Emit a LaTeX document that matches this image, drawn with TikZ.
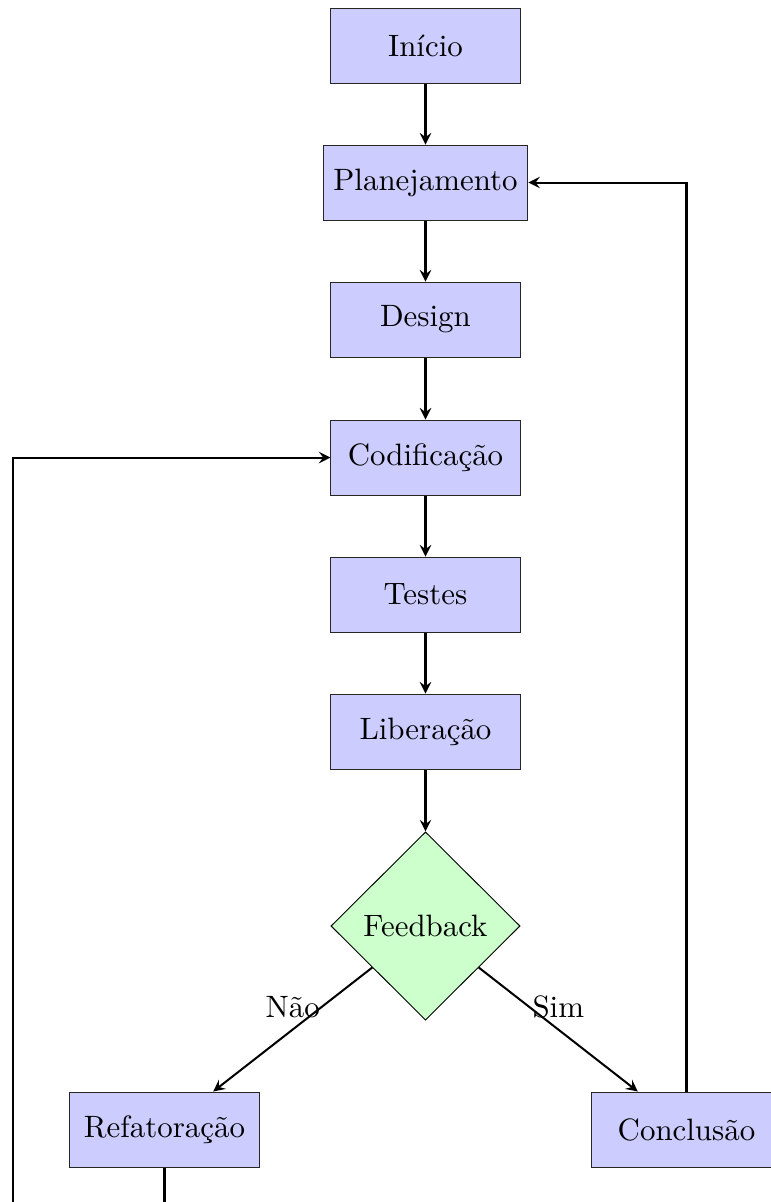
\documentclass[tikz,border=0pt]{standalone}
\usetikzlibrary{shapes.geometric}
\begin{document}
\begin{tikzpicture}[x=0.3236pt,y=-0.3236pt,
  stepbox/.style={rectangle,draw=black!85,line width=0.3pt,fill=blue!20,minimum width=61.2pt,minimum height=24.3pt,inner sep=3.33pt},
  decisionbox/.style={diamond,draw=black,line width=0.3pt,fill=green!20,aspect=1,minimum width=61.2pt,minimum height=60.9pt,inner sep=0pt},
  arrow/.style={line width=0.65pt,-stealth}]
\useasboundingbox (0,0) rectangle (771,1202);
\clip (0,0) rectangle (771,1202);
\node[stepbox] (ini) at (425.5,45.5) {Início};
\node[stepbox] (pla) at (425.5,182.5) {Planejamento};
\node[stepbox] (des) at (425.5,319.5) {Design};
\node[stepbox] (cod) at (425.5,457.5) {Codificação};
\node[stepbox] (tes) at (425.5,594.5) {Testes};
\node[stepbox] (lib) at (425.5,731.5) {Liberação};
\node[decisionbox] (fee) at (425.5,926) {Feedback};
\node[stepbox] (ref) at (164.5,1129.5) {Refatoração};
\node[stepbox] (con) at (686.5,1129.5) {Conclusão};
\coordinate (c1) at (164.5,1240);
\coordinate (c2) at (13,1240);
\draw[arrow] (ini) -- (pla);
\draw[arrow] (pla) -- (des);
\draw[arrow] (des) -- (cod);
\draw[arrow] (cod) -- (tes);
\draw[arrow] (tes) -- (lib);
\draw[arrow] (lib) -- (fee);
\draw[arrow] (fee) -- node[midway,above] {Não} (ref);
\draw[arrow] (fee) -- node[midway,above] {Sim} (con);
\draw[arrow] (con.north) |- (pla.east);
\draw[arrow] (ref.south) -- (c1) -- (c2) |- (cod.west);
\end{tikzpicture}
\end{document}
